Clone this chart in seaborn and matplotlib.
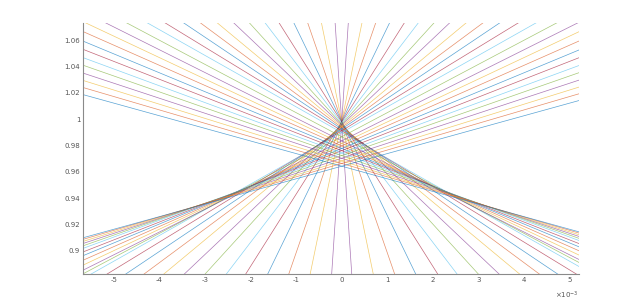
import matplotlib
matplotlib.use("Agg")
import matplotlib.pyplot as plt
import seaborn as sns
import pandas as pd
from matplotlib.ticker import FuncFormatter

# slopes (per 1e-3 of x) and intercepts of the 25 rising lines, steepest first;
# the falling lines are their mirror images (same intercept, opposite slope)
slopes = [0.522, 0.1675, 0.0998, 0.0712, 0.0547, 0.0452, 0.0379, 0.0327,
          0.0287, 0.0256, 0.0232, 0.0211, 0.0195, 0.0183, 0.01727, 0.01626,
          0.01527, 0.01433, 0.01353, 0.01274, 0.01206, 0.01138, 0.01075,
          0.01014, 0.00956]
intercepts = [0.9975, 0.9985, 0.9985, 0.9982, 0.9978, 0.9970, 0.9962, 0.9955,
              0.9946, 0.9936, 0.9925, 0.9912, 0.9898, 0.9866, 0.9835, 0.9816,
              0.9797, 0.9778, 0.9761, 0.9743, 0.9724, 0.9703, 0.9683,
              0.9664, 0.9643]
x_range = [-5.68, 5.21]          # in units of 1e-3
y_range = [0.8823, 1.0727]
x_ticks = [-5, -4, -3, -2, -1, 0, 1, 2, 3, 4, 5]
y_ticks = [0.9, 0.92, 0.94, 0.96, 0.98, 1.0, 1.02, 1.04, 1.06]
matlab_colors = ["#0072BD", "#D95319", "#EDB120", "#7E2F8E",
                 "#77AC30", "#4DBEEE", "#A2142F"]

rows = []
n = len(slopes)
for i in range(n):
    k = n - 1 - i  # colour index counts from the shallowest line
    for sign, tag in ((1, "p"), (-1, "n")):
        for x in x_range:
            rows.append({"line": f"{tag}{i:02d}", "x": x,
                         "y": intercepts[i] + sign * slopes[i] * x,
                         "col": k})
df = pd.DataFrame(rows)
line_ids = list(dict.fromkeys(df["line"]))
palette = {lid: matlab_colors[int(df.loc[df.line == lid, "col"].iloc[0]) % 7]
           for lid in line_ids}

sns.set_theme(style="white")
fig = plt.figure(figsize=(6.4, 3.08), dpi=100)
ax = fig.add_axes([0.1297, 0.1094, 0.7750, 0.8150])

sns.lineplot(data=df, x="x", y="y", hue="line", palette=palette,
             estimator=None, sort=False, legend=False, linewidth=0.5,
             alpha=0.65, ax=ax)

ax.set_xlim(*x_range)
ax.set_ylim(*y_range)
ax.set_xticks(x_ticks)
ax.set_yticks(y_ticks)
ax.yaxis.set_major_formatter(FuncFormatter(lambda v, p: f"{v:g}"))
ax.xaxis.set_major_formatter(FuncFormatter(lambda v, p: f"{v:g}"))
ax.set_xlabel("")
ax.set_ylabel("")
for s in ("top", "right"):
    ax.spines[s].set_visible(False)
for s in ("left", "bottom"):
    ax.spines[s].set_color("#8a8a8a")
    ax.spines[s].set_linewidth(0.8)
ax.tick_params(direction="in", length=3, width=0.6, color="#8a8a8a",
               labelsize=5, labelcolor="#555555", pad=2)
ax.text(1.0, -0.085, r"$\times10^{-3}$", transform=ax.transAxes,
        ha="right", va="center", fontsize=5, color="#555555")

fig.savefig("out.png", dpi=100, facecolor="white")
